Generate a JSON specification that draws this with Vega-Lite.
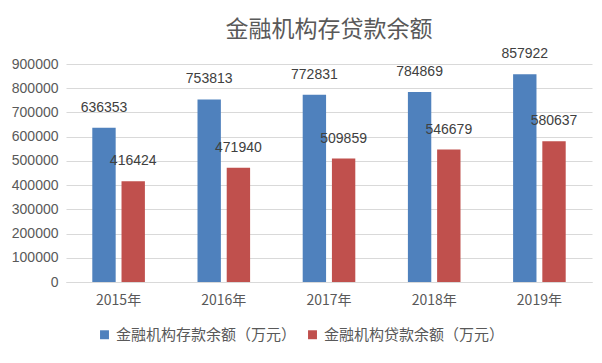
{
  "$schema": "https://vega.github.io/schema/vega-lite/v6.json",
  "autosize": {"type": "none"},
  "width": 526,
  "height": 218,
  "padding": {"left": 66, "top": 64, "right": 10, "bottom": 81},
  "background": "white",
  "title": {"text": "金融机构存贷款余额", "fontSize": 23, "font": "Noto Sans CJK SC", "fontWeight": "normal", "color": "#595959", "offset": 5, "anchor": "middle"},
  "data": {"values": [
    {"year": "2015年", "series": "金融机构存款余额（万元）", "value": 636353},
    {"year": "2015年", "series": "金融机构贷款余额（万元）", "value": 416424},
    {"year": "2016年", "series": "金融机构存款余额（万元）", "value": 753813},
    {"year": "2016年", "series": "金融机构贷款余额（万元）", "value": 471940},
    {"year": "2017年", "series": "金融机构存款余额（万元）", "value": 772831},
    {"year": "2017年", "series": "金融机构贷款余额（万元）", "value": 509859},
    {"year": "2018年", "series": "金融机构存款余额（万元）", "value": 784869},
    {"year": "2018年", "series": "金融机构贷款余额（万元）", "value": 546679},
    {"year": "2019年", "series": "金融机构存款余额（万元）", "value": 857922},
    {"year": "2019年", "series": "金融机构贷款余额（万元）", "value": 580637}
  ]},
  "encoding": {
    "x": {"field": "year", "type": "nominal", "sort": null, "scale": {"paddingInner": 0.5, "paddingOuter": 0.25},
      "axis": {"title": null, "labelAngle": 0, "labelFont": "Noto Sans CJK SC", "labelFontSize": 14, "labelColor": "#595959", "domainColor": "#D9D9D9", "ticks": false, "labelPadding": 11}},
    "xOffset": {"field": "series", "type": "nominal", "scale": {"paddingInner": 0.2, "paddingOuter": 0}},
    "y": {"field": "value", "type": "quantitative", "scale": {"domain": [0, 900000]},
      "axis": {"title": null, "values": [0,100000,200000,300000,400000,500000,600000,700000,800000,900000], "format": "d", "labelOverlap": false, "labelFont": "Liberation Sans", "labelFontSize": 14, "labelColor": "#595959", "domain": false, "ticks": false, "gridColor": "#D9D9D9", "labelPadding": 8}}
  },
  "layer": [
    {"mark": {"type": "bar"},
     "encoding": {"color": {"field": "series", "type": "nominal", "scale": {"range": ["#4F81BD", "#C0504D"]},
       "legend": {"title": null, "orient": "none", "legendX": 31, "legendY": 263, "direction": "horizontal", "symbolType": "square", "symbolSize": 80, "labelFont": "Noto Sans CJK SC", "labelFontSize": 15, "labelColor": "#595959", "labelLimit": 0, "columnPadding": 8, "symbolStrokeWidth": 0, "labelOffset": 4}}}},
    {"mark": {"type": "text", "baseline": "bottom", "dy": -13, "font": "Liberation Sans", "fontSize": 14, "color": "#404040"},
     "encoding": {"text": {"field": "value", "type": "quantitative", "format": "d"}}}
  ],
  "config": {"view": {"stroke": null}}
}
